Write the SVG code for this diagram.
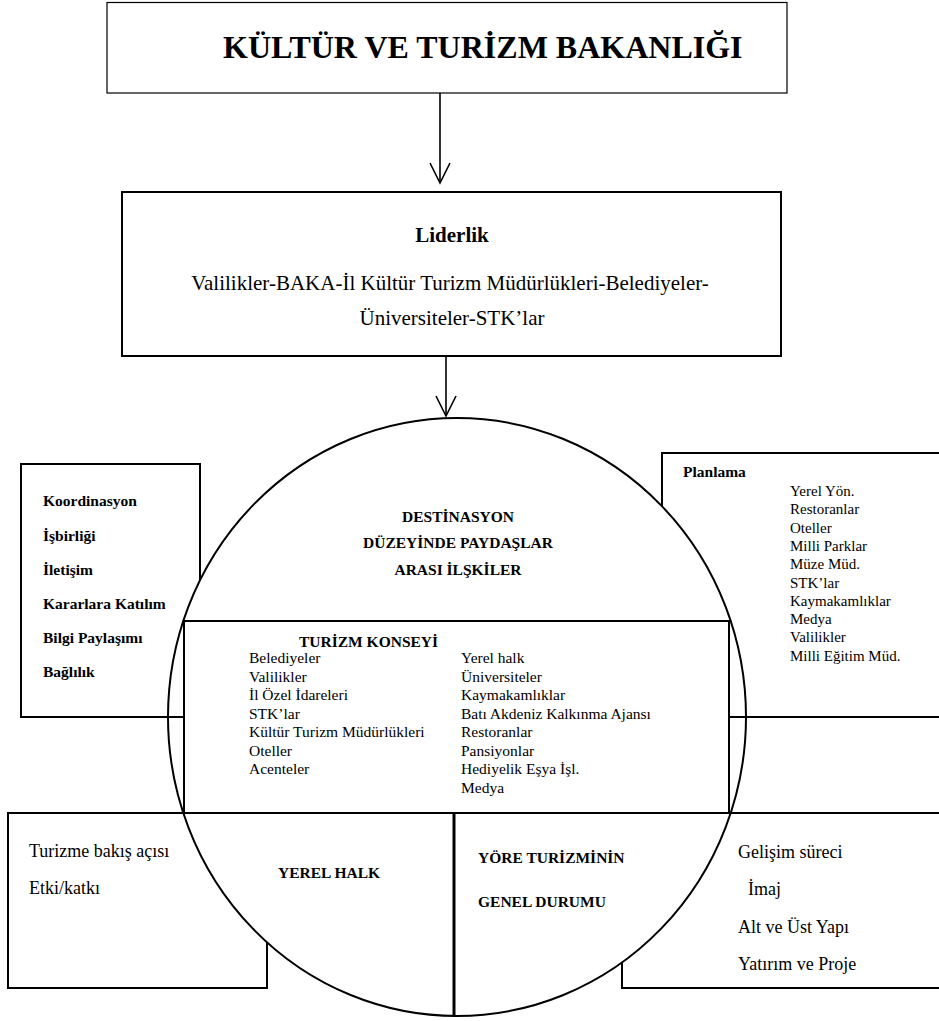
<svg xmlns="http://www.w3.org/2000/svg" width="939" height="1021" viewBox="0 0 939 1021">
<style>
  text { font-family: "Liberation Serif", "Times New Roman", serif; fill: #000; }
  .b { font-weight: bold; }
  .box { fill: #fff; stroke: #000; stroke-width: 2; }
  .ln { fill: none; stroke: #000; stroke-width: 2; }
  .conn { fill: none; stroke: #000; stroke-width: 1.6; }
  .s16 { font-size: 15.5px; }
  .s15 { font-size: 15px; }
  .s18 { font-size: 18px; }
</style>
<defs>
  <marker id="arr" markerUnits="userSpaceOnUse" markerWidth="26" markerHeight="26" viewBox="-3 -3 26 26" refX="20" refY="10" orient="auto">
    <path d="M0,0 L20,10 L0,20" fill="none" stroke="#000" stroke-width="1.6"/>
  </marker>
</defs>
<rect width="939" height="1021" fill="#fff"/>

<!-- side boxes (behind circle) -->
<g id="node-iliski-kriterleri">
  <rect x="21" y="464" width="179" height="253" class="box"/>
</g>
<g id="node-planlama">
  <rect x="662" y="453" width="290" height="264" class="box"/>
</g>
<g id="node-yerel-halk-kriterleri">
  <rect x="8" y="813" width="259" height="175" class="box"/>
</g>
<g id="node-yore-kriterleri">
  <rect x="622" y="813" width="330" height="175" class="box"/>
</g>

<!-- central circle -->
<g id="node-destinasyon">
  <ellipse cx="457" cy="717" rx="289" ry="299" class="box"/>
  <text class="b s16" x="458" y="522" text-anchor="middle">DESTİNASYON</text>
  <text class="b s16" x="458" y="548" text-anchor="middle">DÜZEYİNDE PAYDAŞLAR</text>
  <text class="b s16" x="458" y="575" text-anchor="middle">ARASI İLŞKİLER</text>
</g>

<!-- lines drawn over the circle -->
<g id="dividers">
  <line x1="21" y1="717" x2="184" y2="717" class="ln"/>
  <line x1="729" y1="717" x2="939" y2="717" class="ln"/>
  <line x1="8" y1="813" x2="939" y2="813" class="ln"/>
  <line x1="454" y1="813" x2="454" y2="1017" stroke="#000" stroke-width="3"/>
</g>

<g id="node-turizm-konseyi">
  <rect x="184" y="621" width="545" height="192" class="ln"/>
  <text class="b s16" x="299" y="647">TURİZM KONSEYİ</text>
  <g class="s16">
    <text x="249" y="663">Belediyeler</text>
    <text x="249" y="681.5">Valilikler</text>
    <text x="249" y="700">İl Özel İdareleri</text>
    <text x="249" y="718.5">STK’lar</text>
    <text x="249" y="737">Kültür Turizm Müdürlükleri</text>
    <text x="249" y="755.5">Oteller</text>
    <text x="249" y="774">Acenteler</text>
    <text x="461" y="663">Yerel halk</text>
    <text x="461" y="681.5">Üniversiteler</text>
    <text x="461" y="700">Kaymakamlıklar</text>
    <text x="461" y="718.5">Batı Akdeniz Kalkınma Ajansı</text>
    <text x="461" y="737">Restoranlar</text>
    <text x="461" y="755.5">Pansiyonlar</text>
    <text x="461" y="774">Hediyelik Eşya İşl.</text>
    <text x="461" y="792.5">Medya</text>
  </g>
</g>

<!-- side box texts -->
<g id="node-iliski-kriterleri-text" class="b s16">
  <text x="43" y="506">Koordinasyon</text>
  <text x="43" y="541">İşbirliği</text>
  <text x="43" y="575">İletişim</text>
  <text x="43" y="609">Kararlara Katılım</text>
  <text x="43" y="643">Bilgi Paylaşımı</text>
  <text x="43" y="677">Bağlılık</text>
</g>
<g id="node-planlama-text">
  <text class="b s16" x="683" y="477">Planlama</text>
  <g class="s15">
    <text x="790" y="496">Yerel Yön.</text>
    <text x="790" y="514.3">Restoranlar</text>
    <text x="790" y="532.6">Oteller</text>
    <text x="790" y="550.9">Milli Parklar</text>
    <text x="790" y="569.2">Müze Müd.</text>
    <text x="790" y="587.5">STK’lar</text>
    <text x="790" y="605.8">Kaymakamlıklar</text>
    <text x="790" y="624.1">Medya</text>
    <text x="790" y="642.4">Valilikler</text>
    <text x="790" y="661">Milli Eğitim Müd.</text>
  </g>
</g>
<g id="node-yerel-halk-text">
  <text class="s18" x="29" y="857">Turizme bakış açısı</text>
  <text class="s18" x="29" y="894">Etki/katkı</text>
  <text class="b s16" x="329" y="878" text-anchor="middle">YEREL HALK</text>
</g>
<g id="node-yore-text">
  <text class="b s16" x="478" y="863">YÖRE TURİZMİNİN</text>
  <text class="b s16" x="478" y="907">GENEL DURUMU</text>
  <text class="s18" x="738" y="858">Gelişim süreci</text>
  <text class="s18" x="748" y="895">İmaj</text>
  <text class="s18" x="738" y="933">Alt ve Üst Yapı</text>
  <text class="s18" x="738" y="970">Yatırım ve Proje</text>
</g>

<!-- top nodes -->
<g id="node-bakanlik">
  <rect x="107" y="2.5" width="680" height="90.5" fill="#fff" stroke="#000" stroke-width="1.2"/>
  <text class="b" x="223" y="58" font-size="32">KÜLTÜR VE TURİZM BAKANLIĞI</text>
</g>
<g id="node-liderlik">
  <rect x="122" y="192" width="659" height="164" class="box"/>
  <text class="b" x="452" y="242" font-size="21" text-anchor="middle">Liderlik</text>
  <text x="450" y="290" font-size="21" text-anchor="middle">Valilikler-BAKA-İl Kültür Turizm Müdürlükleri-Belediyeler-</text>
  <text x="452" y="325" font-size="21" text-anchor="middle">Üniversiteler-STK’lar</text>
</g>

<g id="connectors">
  <line x1="440" y1="93" x2="440" y2="183" class="conn" marker-end="url(#arr)"/>
  <line x1="446" y1="356" x2="446" y2="416" class="conn" marker-end="url(#arr)"/>
</g>
</svg>
